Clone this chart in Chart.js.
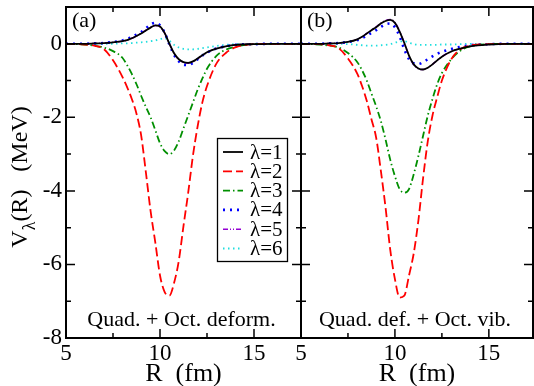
<!DOCTYPE html>
<html lang="en">
<head>
<meta charset="UTF-8" />
<title>Coupling potentials V_lambda(R)</title>
<script src="https://cdn.jsdelivr.net/npm/chart.js"></script>
<style>
  body { margin: 0; background: #fff; }
  #wrap { position: relative; width: 534px; height: 386px; overflow: hidden; background: #fff; }
  #chartA { position: absolute; left: 0; top: 0; }
  #chartB { position: absolute; left: 285px; top: 0; }
</style>
</head>
<body>
<div id="wrap">
  <canvas id="chartA" width="303" height="386"></canvas>
  <canvas id="chartB" width="249" height="386"></canvas>
</div>

<script>
  // radial grid (fm), shared by every curve
  const R = [5, 6, 6.5, 7, 7.5, 8, 8.25, 8.5, 8.75, 9, 9.25, 9.5, 9.75, 10, 10.25, 10.5,
             10.75, 11, 11.25, 11.5, 11.75, 12, 12.25, 12.5, 13, 13.5, 14, 15, 16, 17.5];

  // (a) Quad. + Oct. deform.
  const a_l1 = [0, 0, 0.01, 0.02, 0.04, 0.07, 0.10, 0.15, 0.21, 0.28, 0.36, 0.44, 0.50, 0.47, 0.29, 0.00,
                -0.26, -0.42, -0.50, -0.52, -0.48, -0.40, -0.31, -0.23, -0.13, -0.07, -0.03, -0.01, 0, 0];
  const a_l2 = [0, -0.02, -0.05, -0.14, -0.45, -0.90, -1.18, -1.50, -1.90, -2.50, -3.50, -4.55, -5.40, -6.30, -6.75, -6.85,
                -6.50, -5.90, -4.95, -4.05, -3.05, -2.25, -1.60, -1.15, -0.54, -0.25, -0.10, -0.01, 0, 0];
  const a_l3 = [0, -0.02, -0.05, -0.10, -0.20, -0.38, -0.58, -0.82, -1.10, -1.42, -1.72, -2.00, -2.35, -2.70, -2.92, -3.00,
                -2.90, -2.65, -2.30, -1.95, -1.60, -1.25, -0.95, -0.68, -0.33, -0.16, -0.08, -0.01, 0, 0];
  const a_l4 = [0, 0, 0.01, 0.02, 0.05, 0.09, 0.13, 0.18, 0.25, 0.32, 0.42, 0.52, 0.57, 0.50, 0.30, -0.02,
                -0.30, -0.48, -0.57, -0.58, -0.52, -0.42, -0.32, -0.24, -0.13, -0.07, -0.03, -0.01, 0, 0];
  const a_l5 = [0, 0, 0.01, 0.02, 0.04, 0.07, 0.10, 0.15, 0.21, 0.29, 0.37, 0.45, 0.50, 0.46, 0.29, 0.00,
                -0.27, -0.43, -0.51, -0.53, -0.49, -0.41, -0.32, -0.24, -0.13, -0.07, -0.03, -0.01, 0, 0];
  const a_l6 = [0, 0, 0, 0, 0, 0.01, 0.01, 0.02, 0.03, 0.04, 0.05, 0.07, 0.09, 0.13, 0.15, 0.08,
                -0.03, -0.10, -0.14, -0.15, -0.15, -0.14, -0.12, -0.10, -0.06, -0.03, -0.01, 0, 0, 0];

  // (b) Quad. def. + Oct. vib.
  const b_l1 = [0, 0, 0.01, 0.02, 0.05, 0.12, 0.19, 0.28, 0.37, 0.45, 0.55, 0.62, 0.65, 0.57, 0.33, 0.02,
                -0.32, -0.56, -0.67, -0.70, -0.65, -0.56, -0.45, -0.35, -0.21, -0.13, -0.07, -0.02, 0, 0];
  const b_l2 = [0, -0.01, -0.04, -0.12, -0.40, -0.82, -1.15, -1.55, -2.05, -2.55, -3.45, -4.45, -5.60, -6.40, -6.90, -6.85,
                -6.30, -5.70, -4.80, -3.65, -2.65, -1.95, -1.45, -1.00, -0.42, -0.14, -0.05, -0.01, 0, 0];
  const b_l3 = [0, -0.02, -0.05, -0.10, -0.25, -0.50, -0.72, -1.00, -1.35, -1.70, -2.10, -2.60, -3.15, -3.60, -3.95, -4.05,
                -3.95, -3.55, -3.05, -2.50, -1.95, -1.50, -1.10, -0.80, -0.42, -0.18, -0.07, -0.01, 0, 0];
  const b_l4 = [0, 0, 0.01, 0.02, 0.05, 0.10, 0.15, 0.22, 0.30, 0.37, 0.46, 0.53, 0.55, 0.45, 0.20, -0.15,
                -0.42, -0.53, -0.55, -0.50, -0.42, -0.34, -0.27, -0.22, -0.14, -0.08, -0.04, -0.01, 0, 0];
  const b_l5 = [0, 0, 0.01, 0.02, 0.05, 0.12, 0.19, 0.28, 0.37, 0.46, 0.56, 0.63, 0.66, 0.58, 0.34, 0.02,
                -0.33, -0.57, -0.68, -0.70, -0.65, -0.56, -0.45, -0.35, -0.21, -0.13, -0.07, -0.02, 0, 0];
  const b_l6 = [0, 0, 0, 0, -0.01, -0.03, -0.04, -0.05, -0.05, -0.05, -0.04, -0.03, -0.01, 0.03, 0.06, 0.07,
                0.03, -0.01, -0.03, -0.03, -0.03, -0.03, -0.03, -0.02, -0.02, -0.01, 0, 0, 0, 0];

  const seriesNames = ['λ=1', 'λ=2', 'λ=3', 'λ=4', 'λ=5', 'λ=6'];
  const xTickVals = [5, 10, 15];
  const xMinorVals = [7.5, 12.5, 17.5];
  const yTickVals = [-8, -6, -4, -2, 0];
  const yMinorVals = [-7, -5, -3, -1, 1];

  const SERIF = "'Liberation Serif', 'DejaVu Serif', serif";
  Chart.defaults.font.family = SERIF;
  Chart.defaults.color = '#000';

  const lineStyles = [
    { color: '#000000', width: 1.8, dash: [] },
    { color: '#ff0000', width: 1.8, dash: [9, 4] },
    { color: '#008f00', width: 1.8, dash: [7, 3, 1.5, 3] },
    { color: '#0000ff', width: 2.6, dash: [2, 5] },
    { color: '#9400d3', width: 1.5, dash: [5, 2, 1, 2, 1, 2] },
    { color: '#20dede', width: 1.8, dash: [1.5, 3.5] }
  ];

  function buildDatasets(list) {
    return list.map((vals, i) => ({
      label: seriesNames[i],
      data: R.map((r, k) => ({ x: r, y: vals[k] })),
      borderColor: lineStyles[i].color,
      borderWidth: lineStyles[i].width,
      borderDash: lineStyles[i].dash,
      pointRadius: 0,
      fill: false,
      cubicInterpolationMode: 'monotone'
    }));
  }

  // frame with inward ticks on all four sides
  const frameTicks = {
    id: 'frameTicks',
    afterDraw(chart) {
      const { ctx, chartArea: a, scales: { x, y } } = chart;
      ctx.save();
      ctx.strokeStyle = '#000';
      ctx.setLineDash([]);
      ctx.lineWidth = 1.5;
      ctx.beginPath();
      const markX = (vals, len) => {
        vals.forEach(v => {
          if (v >= x.min && v <= x.max) {
            const p = x.getPixelForValue(v);
            ctx.moveTo(p, a.bottom); ctx.lineTo(p, a.bottom - len);
            ctx.moveTo(p, a.top); ctx.lineTo(p, a.top + len);
          }
        });
      };
      const markY = (vals, len) => {
        vals.forEach(v => {
          const p = y.getPixelForValue(v);
          ctx.moveTo(a.left, p); ctx.lineTo(a.left + len, p);
          ctx.moveTo(a.right, p); ctx.lineTo(a.right - len, p);
        });
      };
      markX(xTickVals, 9); markX(xMinorVals, 5);
      markY(yTickVals, 9); markY(yMinorVals, 5);
      ctx.stroke();
      ctx.lineWidth = 2;
      ctx.strokeRect(a.left, a.top, a.right - a.left, a.bottom - a.top);
      ctx.restore();
    }
  };

  // panel tag and caption
  const panelText = {
    id: 'panelText',
    afterDraw(chart, args, opts) {
      const { ctx, chartArea: a } = chart;
      ctx.save();
      ctx.fillStyle = '#000';
      ctx.textBaseline = 'alphabetic';
      ctx.font = '22px ' + SERIF;
      ctx.textAlign = 'left';
      ctx.fillText(opts.tag, a.left + 6, 27);
      ctx.textAlign = 'center';
      ctx.fillText(opts.caption, (a.left + a.right) / 2 - 2, 326);
      ctx.restore();
    }
  };

  // legend box inside panel (a)
  const lambdaLegend = {
    id: 'lambdaLegend',
    afterDatasetsDraw(chart) {
      const ctx = chart.ctx;
      ctx.save();
      ctx.fillStyle = '#fff';
      ctx.fillRect(217, 138, 70, 123);
      ctx.strokeStyle = '#000';
      ctx.lineWidth = 1.3;
      ctx.strokeRect(217.5, 138.5, 70, 123);
      chart.data.datasets.forEach((ds, i) => {
        const yy = 152 + i * 19.3;
        ctx.strokeStyle = ds.borderColor;
        ctx.lineWidth = ds.borderWidth;
        ctx.setLineDash(ds.borderDash);
        ctx.beginPath();
        ctx.moveTo(223, yy); ctx.lineTo(243, yy);
        ctx.stroke();
        ctx.setLineDash([]);
        ctx.fillStyle = '#000';
        ctx.font = '21px ' + SERIF;
        ctx.textBaseline = 'middle';
        ctx.fillText(ds.label, 250, yy + 1);
      });
      ctx.restore();
    }
  };

  // rotated y title with subscript lambda
  const yTitle = {
    id: 'yTitle',
    afterDraw(chart) {
      const ctx = chart.ctx;
      const big = '24px ' + SERIF, small = '18px ' + SERIF;
      const rest = '(R)   (MeV)';
      ctx.save();
      ctx.fillStyle = '#000';
      ctx.translate(27, 177);
      ctx.rotate(-Math.PI / 2);
      ctx.textBaseline = 'alphabetic';
      ctx.font = big;
      const wV = ctx.measureText('V').width;
      const wRest = ctx.measureText(rest).width;
      ctx.font = small;
      const wL = ctx.measureText('λ').width;
      let px = -(wV + wL + wRest) / 2;
      ctx.font = big; ctx.fillText('V', px, 0); px += wV;
      ctx.font = small; ctx.fillText('λ', px, 8); px += wL;
      ctx.font = big; ctx.fillText(rest, px, 0);
      ctx.restore();
    }
  };

  function panelOptions(isLeft, xMax, tag, caption) {
    return {
      responsive: false,
      animation: false,
      devicePixelRatio: 1,
      layout: { padding: isLeft ? { left: 0, right: 2, top: 7, bottom: 0 } : { left: 16, right: 1, top: 7, bottom: 0 } },
      plugins: {
        legend: { display: false },
        tooltip: { enabled: false },
        panelText: { tag: tag, caption: caption }
      },
      scales: {
        x: {
          type: 'linear', min: 5, max: xMax,
          afterBuildTicks: s => { s.ticks = xTickVals.map(v => ({ value: v })); },
          afterFit: s => { s.height = 48; s.paddingLeft = 0; s.paddingRight = 0; },
          grid: { display: false, drawTicks: false },
          border: { display: false },
          ticks: { padding: 2, font: { size: 23 }, color: '#000', maxRotation: 0, autoSkip: false },
          title: { display: true, text: 'R  (fm)', font: { size: 26, lineHeight: 0.9 }, color: '#000', padding: 0 }
        },
        y: {
          type: 'linear', min: -8, max: 1, display: isLeft,
          afterBuildTicks: s => { s.ticks = yTickVals.map(v => ({ value: v })); },
          afterFit: s => { s.width = isLeft ? 66 : 0; s.paddingTop = 0; s.paddingBottom = 0; },
          grid: { display: false, drawTicks: false },
          border: { display: false },
          ticks: { padding: 4, font: { size: 23 }, color: '#000' }
        }
      }
    };
  }

  new Chart(document.getElementById('chartA'), {
    type: 'line',
    data: { datasets: buildDatasets([a_l1, a_l2, a_l3, a_l4, a_l5, a_l6]) },
    options: panelOptions(true, 17.5, '(a)', 'Quad. + Oct. deform.'),
    plugins: [frameTicks, panelText, lambdaLegend, yTitle]
  });

  new Chart(document.getElementById('chartB'), {
    type: 'line',
    data: { datasets: buildDatasets([b_l1, b_l2, b_l3, b_l4, b_l5, b_l6]) },
    options: panelOptions(false, 17.35, '(b)', 'Quad. def. + Oct. vib.'),
    plugins: [frameTicks, panelText]
  });
</script>
</body>
</html>
